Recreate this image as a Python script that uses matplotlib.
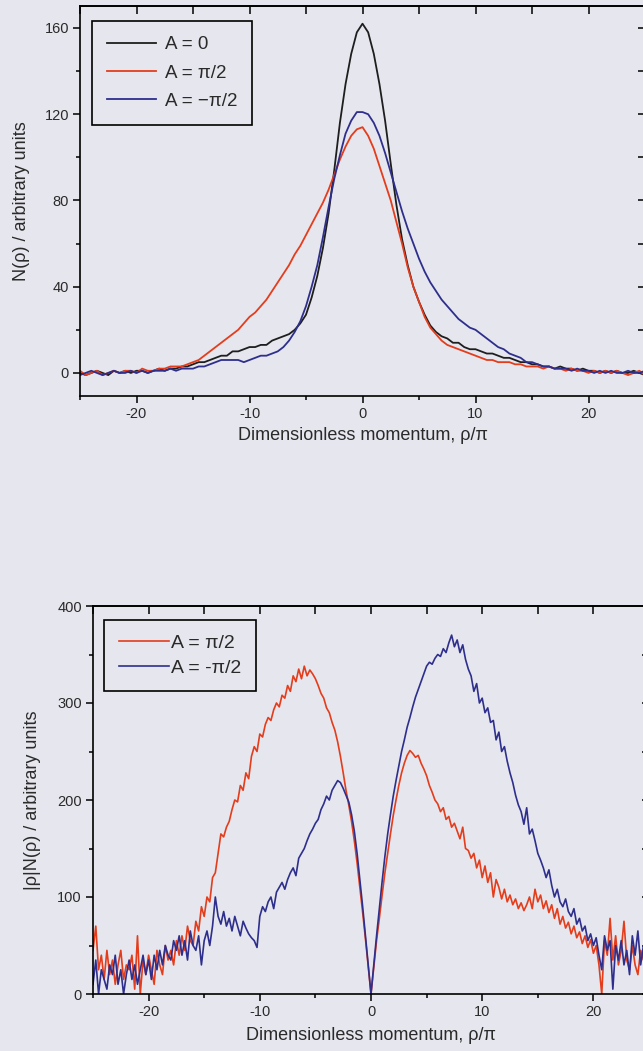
import numpy as np
import matplotlib.pyplot as plt
from matplotlib.ticker import MultipleLocator

# ============================================
# Data
# ============================================
# top panel: N(rho), sampled every 0.5 in rho/pi
rho_top = np.arange(-25, 25.01, 0.5)

n_a0 = [0, -1, 0, 1, 0, -1, 1, 0, 1, 0,
        1, 1, 0, 1, 2, 1, 2, 2, 3, 3,
        4, 5, 5, 6, 7, 8, 8, 10, 10, 11,
        12, 12, 13, 13, 15, 16, 17, 18, 20, 23,
        27, 35, 45, 58, 74, 94, 116, 134, 148, 158,
        162, 158, 148, 134, 117, 97, 78, 62, 50, 40,
        33, 27, 22, 19, 17, 16, 14, 14, 12, 11,
        11, 10, 9, 9, 8, 7, 7, 6, 5, 5,
        4, 4, 3, 3, 2, 3, 2, 2, 1, 2,
        1, 1, 0, 1, 0, 1, 0, 0, 1, 0,
        -1]

n_pos = [1, -1, 0, 1, -1, 0, 1, 0, 1, 1,
         0, 2, 1, 1, 2, 2, 3, 3, 3, 4,
         5, 6, 8, 10, 12, 14, 16, 18, 20, 23,
         26, 28, 31, 34, 38, 42, 46, 50, 55, 59,
         64, 69, 74, 79, 85, 92, 99, 105, 110, 113,
         114, 110, 104, 96, 88, 80, 70, 60, 49, 40,
         33, 26, 21, 18, 15, 13, 12, 11, 10, 9,
         8, 7, 6, 6, 5, 5, 5, 4, 4, 3,
         3, 3, 2, 3, 2, 2, 1, 2, 1, 1,
         0, 1, 0, 1, 0, 1, 0, -1, 0, 1,
         -1]

n_neg = [-1, 0, 1, 0, -1, 0, 1, 0, 0, 1,
         0, 1, 0, 1, 1, 1, 2, 1, 2, 2,
         2, 3, 3, 4, 5, 6, 6, 6, 6, 5,
         6, 7, 8, 8, 9, 10, 12, 15, 19, 24,
         31, 40, 50, 63, 77, 90, 101, 111, 117, 121,
         121, 120, 116, 110, 102, 93, 84, 75, 67, 60,
         53, 47, 42, 38, 34, 31, 28, 25, 23, 21,
         20, 18, 16, 14, 12, 11, 9, 8, 7, 5,
         5, 4, 3, 3, 2, 2, 2, 1, 2, 1,
         1, 0, 1, 0, 1, 0, 0, 1, 0, 0,
         1]

# bottom panel: |rho| N(rho), sampled every 0.25 in rho/pi
rho_bot = np.arange(-25, 25.01, 0.25)

rn_pos = [45, 70, 25, 40, 15, 45, 20, 35, 10, 30,
          45, 15, 30, 25, 40, 5, 60, 0, 35, 20,
          40, 25, 10, 45, 30, 20, 50, 35, 45, 30,
          55, 40, 60, 45, 70, 55, 50, 75, 65, 90,
          80, 100, 95, 120, 125, 145, 165, 162, 172, 178,
          190, 200, 198, 215, 210, 228, 222, 245, 255, 250,
          268, 265, 278, 285, 282, 293, 300, 296, 308, 305,
          318, 312, 328, 322, 335, 325, 338, 328, 334, 330,
          325, 318, 310, 305, 295, 290, 280, 272, 260, 245,
          228, 210, 195, 178, 158, 135, 110, 84, 57, 28,
          0, 28, 55, 78, 102, 125, 145, 165, 184, 200,
          215, 228, 238, 246, 251, 248, 244, 246, 238, 232,
          225, 215, 208, 200, 196, 188, 192, 180, 183, 172,
          176, 168, 160, 172, 150, 148, 140, 145, 130, 138,
          120, 132, 115, 125, 100, 118, 110, 98, 108, 95,
          102, 92, 98, 88, 94, 86, 92, 100, 88, 108,
          95, 102, 88, 96, 84, 92, 78, 88, 72, 80,
          68, 74, 62, 70, 58, 64, 52, 60, 48, 56,
          42, 50, 30, 0, 55, 40, 78, 35, 60, 30,
          45, 75, 35, 25, 50, 30, 20, 45, 35, 40,
          30]

rn_neg = [10, 35, 0, 25, 15, 5, 30, 20, 40, 10,
          25, 0, 20, 35, 15, 30, 10, 25, 40, 20,
          35, 15, 40, 25, 45, 30, 50, 40, 35, 55,
          45, 60, 40, 55, 35, 65, 50, 45, 60, 30,
          55, 65, 50, 70, 100, 80, 72, 85, 70, 78,
          65, 80, 70, 60, 75, 68, 62, 58, 55, 48,
          80, 90, 85, 95, 100, 88, 105, 110, 115, 108,
          118, 125, 130, 122, 140, 145, 150, 158, 165, 170,
          176, 180, 190, 196, 204, 200, 210, 215, 220, 218,
          212, 205, 198, 185, 168, 145, 118, 90, 60, 30,
          0, 30, 60, 88, 116, 142, 165, 185, 204, 220,
          235, 250, 262, 275, 285, 296, 306, 314, 322, 330,
          338, 342, 340, 346, 350, 348, 356, 352, 362, 370,
          358, 365, 352, 360, 345, 335, 328, 312, 320, 300,
          305, 290, 295, 280, 282, 262, 270, 250, 255, 240,
          228, 218, 205, 195, 188, 175, 192, 165, 170, 158,
          145, 138, 130, 120, 128, 112, 100, 108, 95, 90,
          98, 85, 80, 88, 72, 78, 65, 70, 55, 62,
          50, 58, 40, 25, 60, 45, 55, 5, 50, 35,
          55, 30, 45, 20, 60, 40, 65, 30, 50, 35,
          40]

BG = '#e6e6ee'
BLACK = '#1e1e1e'
RED = '#e33d1c'
BLUE = '#2e2f8c'
TXT = '#2a2a2a'

plt.rcParams['font.family'] = ['Liberation Sans', 'DejaVu Sans']
plt.rcParams['axes.unicode_minus'] = False

fig = plt.figure(figsize=(6.43, 10.51), dpi=100, facecolor=BG)
W, H = 643, 1051


def style(ax, ymaj, ymin):
    ax.set_facecolor(BG)
    ax.xaxis.set_major_locator(MultipleLocator(10))
    ax.xaxis.set_minor_locator(MultipleLocator(5))
    ax.yaxis.set_major_locator(MultipleLocator(ymaj))
    ax.yaxis.set_minor_locator(MultipleLocator(ymin))
    ax.tick_params(which='major', direction='out', length=5, width=1.1,
                   labelsize=10.5, labelcolor=TXT, pad=3)
    ax.tick_params(which='minor', direction='out', length=3, width=1.1)
    for s in ax.spines.values():
        s.set_linewidth(1.2)
    # inward ticks on top and right, without labels
    top = ax.secondary_xaxis('top')
    top.xaxis.set_major_locator(MultipleLocator(10))
    top.xaxis.set_minor_locator(MultipleLocator(5))
    top.tick_params(which='both', direction='in', length=6, width=1.1, labeltop=False)
    top.spines['top'].set_linewidth(1.2)
    right = ax.secondary_yaxis('right')
    right.yaxis.set_major_locator(MultipleLocator(ymaj))
    right.yaxis.set_minor_locator(MultipleLocator(ymin))
    right.tick_params(which='both', direction='in', length=5, width=1.1, labelright=False)
    right.spines['right'].set_linewidth(1.2)


# ============================================
# Top panel - N(rho)
# ============================================
ax1 = fig.add_axes([80 / W, 1 - 396 / H, 565 / W, 390 / H])
l0, = ax1.plot(rho_top, n_a0, color=BLACK, lw=1.3, label='A = 0')
l1, = ax1.plot(rho_top, n_pos, color=RED, lw=1.3, label='A = π/2')
l2, = ax1.plot(rho_top, n_neg, color=BLUE, lw=1.3, label='A = −π/2')
ax1.set_xlim(-25, 25)
ax1.set_ylim(-10.7, 170.2)
style(ax1, 40, 20)
ax1.set_xlabel('Dimensionless momentum, ρ/π', fontsize=13, color=TXT, va='center')
ax1.xaxis.set_label_coords(0.5, -0.1)
ax1.set_ylabel('N(ρ) / arbitrary units', fontsize=13, color=TXT, va='center')
ax1.yaxis.set_label_coords(-0.103, 0.5)
leg1 = ax1.legend(handles=[l0, l1, l2], loc='upper left', bbox_to_anchor=(0.021, 0.9615),
                  borderaxespad=0, fancybox=False, edgecolor='black', facecolor=BG,
                  framealpha=1, fontsize=13.5, handlelength=2.6, handletextpad=0.5,
                  labelspacing=0.6, borderpad=0.8, labelcolor=TXT)
leg1.get_frame().set_linewidth(1.2)

# ============================================
# Bottom panel - |rho| N(rho)
# ============================================
ax2 = fig.add_axes([93 / W, 1 - 994 / H, 556 / W, 388 / H])
ax2.plot(rho_bot, rn_pos, color=RED, lw=1.2, label='A = π/2')
ax2.plot(rho_bot, rn_neg, color=BLUE, lw=1.2, label='A = -π/2')
ax2.set_xlim(-25, 25)
ax2.set_ylim(0, 400)
style(ax2, 100, 50)
ax2.set_xlabel('Dimensionless momentum, ρ/π', fontsize=13, color=TXT, va='center')
ax2.xaxis.set_label_coords(0.5, -0.106)
ax2.set_ylabel('|ρ|N(ρ) / arbitrary units', fontsize=13, color=TXT, va='center')
ax2.yaxis.set_label_coords(-0.108, 0.5)
leg2 = ax2.legend(loc='upper left', bbox_to_anchor=(0.02, 0.964),
                  borderaxespad=0, fancybox=False, edgecolor='black', facecolor=BG,
                  framealpha=1, fontsize=14, handlelength=2.6, handletextpad=0.1,
                  labelspacing=0.35, borderpad=0.75, labelcolor=TXT)
leg2.get_frame().set_linewidth(1.2)

fig.savefig('out.png', dpi=100, facecolor=BG)
